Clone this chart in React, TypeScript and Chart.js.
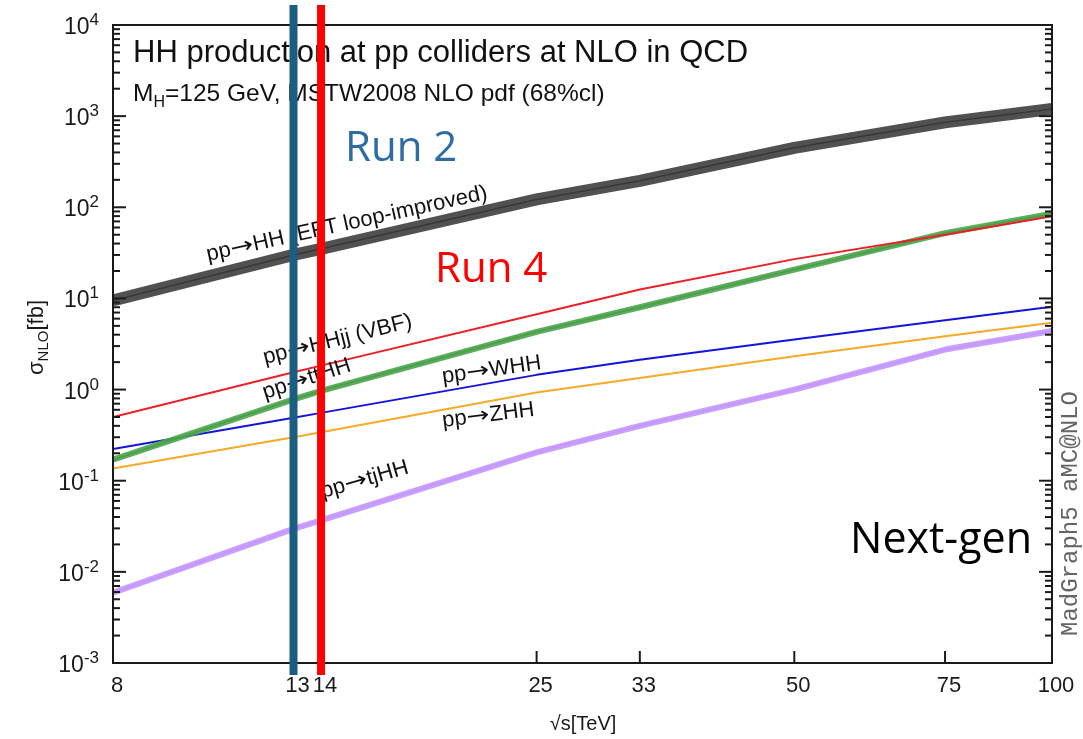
import React, { useEffect, useRef } from "react";
import { Chart, registerables } from "chart.js";

Chart.register(...registerables);

// ---------- data ----------
const energies = [8, 13, 14, 25, 33, 50, 75, 100]; // sqrt(s) in TeV
const xTickValues = [8, 13, 14, 25, 33, 50, 75, 100];
const yDecadeExponents = [-3, -2, -1, 0, 1, 2, 3, 4];

const sigmaHH = [9.5, 30, 35, 122, 195, 449, 855, 1200];
const sigmaVBF = [0.5, 1.55, 1.83, 6.7, 12.5, 27, 50, 80];
const sigmaTTHH = [0.17, 0.78, 0.97, 4.3, 8.0, 20.7, 52, 85];
const sigmaWHH = [0.223, 0.49, 0.555, 1.45, 2.13, 3.54, 5.76, 8.1];
const sigmaZHH = [0.136, 0.3, 0.34, 0.93, 1.34, 2.32, 3.85, 5.4];
const sigmaTJHH = [0.0059, 0.0296, 0.0368, 0.205, 0.4, 1.0, 2.75, 4.4];

const runLineEnergies = [13, 14];
const runLineColors = ["#1b5e82", "#ff0000"];

const curveLabels = [
  { tail: "HH (EFT loop-improved)", x: 208, y: 261, angle: -12.5 },
  { tail: "HHjj (VBF)", x: 265, y: 364, angle: -14 },
  { tail: "ttHH", x: 265, y: 399, angle: -18 },
  { tail: "WHH", x: 443, y: 383, angle: -8 },
  { tail: "ZHH", x: 443, y: 427, angle: -7 },
  { tail: "tjHH", x: 323, y: 498, angle: -16 },
];

const SANS = "'Liberation Sans', Arial, sans-serif";
const ARROWFONT = "'DejaVu Sans', sans-serif";

function xy(values: number[]) {
  return energies.map((e, i) => ({ x: e, y: values[i] }));
}

function drawParts(
  ctx: CanvasRenderingContext2D,
  parts: { t: string; size: number; dy: number; font?: string; sx?: number }[],
  x: number,
  y: number
) {
  let cx = x;
  for (const p of parts) {
    ctx.font = `${p.size}px ${p.font || SANS}`;
    const w = ctx.measureText(p.t).width;
    if (p.sx) {
      ctx.save();
      ctx.translate(cx, y + p.dy);
      ctx.scale(p.sx, 1);
      ctx.fillText(p.t, 0, 0);
      ctx.restore();
      cx += w * p.sx;
    } else {
      ctx.fillText(p.t, cx, y + p.dy);
      cx += w;
    }
  }
}

const decorPlugin = {
  id: "decor",
  afterDatasetsDraw(chart: any) {
    const { ctx, chartArea: a, scales } = chart;
    const ys = scales.y;
    const xs = scales.x;
    ctx.save();
    ctx.strokeStyle = "#1a1a1a";
    ctx.lineWidth = 2;
    ctx.strokeRect(a.left, a.top, a.right - a.left, a.bottom - a.top);

    const seg = (x1: number, y1: number, x2: number, y2: number) => {
      ctx.beginPath();
      ctx.moveTo(x1, y1);
      ctx.lineTo(x2, y2);
      ctx.stroke();
    };
    // y ticks (inward, left + right)
    const maxE = yDecadeExponents[yDecadeExponents.length - 1];
    for (const e of yDecadeExponents) {
      const py = ys.getPixelForValue(Math.pow(10, e));
      seg(a.left, py, a.left + 13, py);
      seg(a.right, py, a.right - 13, py);
      if (e < maxE) {
        for (let k = 2; k <= 9; k++) {
          const pm = ys.getPixelForValue(k * Math.pow(10, e));
          seg(a.left, pm, a.left + 7, pm);
          seg(a.right, pm, a.right - 7, pm);
        }
      }
    }
    // x ticks (inward)
    for (const v of xTickValues) {
      const px = xs.getPixelForValue(v);
      if (px <= a.left + 1 || px >= a.right - 1) continue;
      seg(px, a.bottom, px, a.bottom - 12);
    }

    // y tick labels with superscripts
    ctx.fillStyle = "#1a1a1a";
    ctx.textBaseline = "alphabetic";
    ctx.textAlign = "left";
    for (const e of yDecadeExponents) {
      const py = ys.getPixelForValue(Math.pow(10, e));
      const expStr = String(e);
      ctx.font = `17px ${SANS}`;
      const we = ctx.measureText(expStr).width;
      ctx.font = `23px ${SANS}`;
      const wb = ctx.measureText("10").width;
      const right = 99;
      ctx.fillText("10", right - we - wb, py + 9);
      ctx.font = `17px ${SANS}`;
      ctx.fillText(expStr, right - we, py);
    }

    // axis titles
    ctx.save();
    ctx.translate(43, 375);
    ctx.rotate(-Math.PI / 2);
    drawParts(
      ctx,
      [
        { t: "\u03c3", size: 22, dy: 0 },
        { t: "NLO", size: 15, dy: 5 },
        { t: "[fb]", size: 22, dy: 0 },
      ],
      0,
      0
    );
    ctx.restore();

    ctx.font = `20px ${SANS}`;
    ctx.textAlign = "center";
    ctx.fillText("\u221as[TeV]", 583, 730);
    ctx.textAlign = "left";

    // MadGraph tag
    ctx.save();
    ctx.translate(1077, 636);
    ctx.rotate(-Math.PI / 2);
    ctx.fillStyle = "#666";
    ctx.font = "24px 'Liberation Mono', 'DejaVu Sans Mono', monospace";
    ctx.fillText("MadGraph5 aMC@NLO", 0, 0);
    ctx.restore();

    // titles inside the frame
    ctx.fillStyle = "#111";
    ctx.font = `31px ${SANS}`;
    ctx.fillText("HH production at pp colliders at NLO in QCD", 133, 62);
    drawParts(
      ctx,
      [
        { t: "M", size: 24.5, dy: 0 },
        { t: "H", size: 16, dy: 6 },
        { t: "=125 GeV, MSTW2008 NLO pdf (68%cl)", size: 24.5, dy: 0 },
      ],
      133,
      101
    );

    // curve labels
    for (const l of curveLabels) {
      ctx.save();
      ctx.translate(l.x, l.y);
      ctx.rotate((l.angle * Math.PI) / 180);
      drawParts(
        ctx,
        [
          { t: "pp", size: 22, dy: 0 },
          { t: "\u2192", size: 22, dy: 0, font: ARROWFONT, sx: 1.25 },
          { t: l.tail, size: 22, dy: 0 },
        ],
        0,
        0
      );
      ctx.restore();
    }
    ctx.restore();
  },
  afterDraw(chart: any) {
    const { ctx, scales } = chart;
    const xs = scales.x;
    ctx.save();
    runLineEnergies.forEach((e, i) => {
      const px = xs.getPixelForValue(e);
      ctx.fillStyle = runLineColors[i];
      ctx.fillRect(px - 4, 5, 8, 670);
    });
    const FONT2 = "'Open Sans', 'Noto Sans', sans-serif";
    ctx.font = `42px ${FONT2}`;
    ctx.textAlign = "left";
    ctx.fillStyle = "#2e6da4";
    ctx.fillText("Run 2", 345, 161);
    ctx.fillStyle = "#ff0000";
    ctx.fillText("Run 4", 435, 282);
    ctx.fillStyle = "#000";
    ctx.font = `43px ${FONT2}`;
    ctx.fillText("Next-gen", 850, 553);
    ctx.restore();
  },
};

export default function App() {
  const ref = useRef<HTMLCanvasElement | null>(null);
  useEffect(() => {
    document.body.style.margin = "0";
    const canvas = ref.current;
    if (!canvas) return;
    const line = (data: number[], color: string, width: number) => ({
      data: xy(data),
      borderColor: color,
      backgroundColor: color,
      borderWidth: width,
      pointRadius: 0,
      tension: 0,
      fill: false,
      clip: 0,
      borderJoinStyle: "round" as const,
    });
    const chart = new Chart(canvas, {
      type: "line",
      data: {
        datasets: [
          line(sigmaHH, "rgba(62,62,62,0.9)", 12),
          line(sigmaHH, "#000000", 1.5),
          line(sigmaVBF, "#ec2026", 2),
          line(sigmaTTHH, "rgba(76,164,76,0.9)", 6),
          line(sigmaTTHH, "#2f8a2f", 2),
          line(sigmaWHH, "#1414dc", 2),
          line(sigmaZHH, "#f7a928", 2),
          line(sigmaTJHH, "rgba(198,154,255,0.95)", 6),
          line(sigmaTJHH, "#b57df5", 2),
        ] as any,
      },
      options: {
        animation: false,
        responsive: false,
        layout: { padding: { top: 25, right: 31, left: 0, bottom: 0 } },
        plugins: { legend: { display: false }, tooltip: { enabled: false } },
        scales: {
          x: {
            type: "logarithmic",
            min: 8,
            max: 100,
            afterBuildTicks: (scale: any) => {
              scale.ticks = xTickValues.map((v) => ({ value: v, major: true }));
            },
            afterFit: (scale: any) => {
              scale.height = 76;
            },
            grid: { display: false, drawTicks: false },
            border: { display: false },
            ticks: {
              autoSkip: false,
              maxRotation: 0,
              padding: 10,
              labelOffset: 4,
              color: "#1a1a1a",
              font: { size: 22, family: SANS },
              callback: (v: any) => String(v),
            },
          },
          y: {
            type: "logarithmic",
            min: 1e-3,
            max: 1e4,
            afterFit: (scale: any) => {
              scale.width = 113;
            },
            grid: { display: false, drawTicks: false },
            border: { display: false },
            ticks: { display: false },
          },
        },
      },
      plugins: [decorPlugin],
    });
    return () => chart.destroy();
  }, []);
  return (
    <canvas
      ref={ref}
      width={1083}
      height={739}
      style={{ position: "absolute", left: 0, top: 0, width: 1083, height: 739, background: "#fff" }}
    />
  );
}
